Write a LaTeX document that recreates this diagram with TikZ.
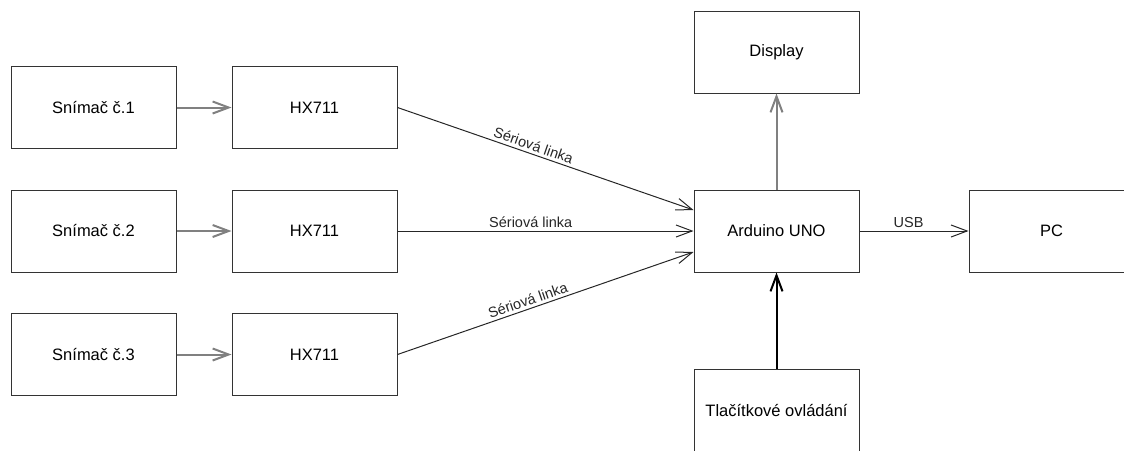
\documentclass[tikz,border=0pt]{standalone}
\usepackage{fontspec}
\setmainfont{Liberation Sans}
\usetikzlibrary{arrows.meta,positioning}
\tikzset{
  blok/.style={draw=black!80, line width=1pt, minimum width=165pt, minimum height=82pt, inner sep=0pt, font=\fontsize{16.5}{19}\selectfont},
  sipka/.style={-{Straight Barb[length=16pt,width=12pt]}, line width=1pt, black!85},
  sipkased/.style={-{Straight Barb[length=16pt,width=12pt]}, line width=2pt, black!50},
  sipkatucna/.style={-{Straight Barb[length=16pt,width=12pt]}, line width=2pt, black},
  popis/.style={font=\fontsize{14.5}{17}\selectfont, inner sep=3pt}
}
\begin{document}
\begin{tikzpicture}[x=1pt, y=-1pt, node distance=40.5pt and 55pt]
\useasboundingbox (0,0) rectangle (1124,450);
\node[blok] at (93.5,107.5) (snim1) {Snímač č.1};
\node[blok, below=of snim1] (snim2) {Snímač č.2};
\node[blok, below=of snim2] (snim3) {Snímač č.3};
\node[blok, right=of snim1] (hx1) {HX711};
\node[blok, right=of snim2] (hx2) {HX711};
\node[blok, right=of snim3] (hx3) {HX711};
\node[blok, right=296pt of hx2] (ard) {Arduino UNO};
\node[blok, above=96pt of ard] (disp) {Display};
\node[blok, below=96pt of ard] (tlac) {Tlačítkové ovládání};
\node[blok, right=109pt of ard] (pc) {PC};
\draw[sipkased] (snim1) -- (hx1);
\draw[sipkased] (snim2) -- (hx2);
\draw[sipkased] (snim3) -- (hx3);
\draw[sipka] (hx1.east) -- node[popis, above, sloped, pos=0.45] {Sériová linka} ([yshift=21pt]ard.west);
\draw[sipka] (hx2.east) -- node[popis, above, pos=0.45] {Sériová linka} (ard.west);
\draw[sipka] (hx3.east) -- node[popis, above, sloped, pos=0.45] {Sériová linka} ([yshift=-21pt]ard.west);
\draw[sipkased] (ard) -- (disp);
\draw[sipkatucna] (tlac) -- (ard);
\draw[sipka] (ard) -- node[popis, above, pos=0.45] {USB} (pc);
\end{tikzpicture}
\end{document}
